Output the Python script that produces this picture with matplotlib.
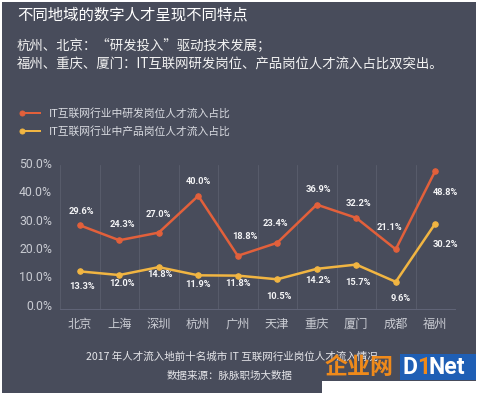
import numpy as np
import matplotlib.pyplot as plt
from matplotlib.patches import Rectangle

plt.rcParams['font.family'] = ['Noto Sans CJK SC', 'DejaVu Sans']

W, H = 481, 396

cities = ['北京', '上海', '深圳', '杭州', '广州', '天津', '重庆', '厦门', '成都', '福州']
rd_share = [29.6, 24.3, 27.0, 40.0, 18.8, 23.4, 36.9, 32.2, 21.1, 48.8]
pm_share = [13.3, 12.0, 14.8, 11.9, 11.8, 10.5, 14.2, 15.7, 9.6, 30.2]
yticks = [0, 10, 20, 30, 40, 50]

# label offsets (px) relative to each point
rd_off = [(2, 14), (3, 16), (0, 18), (0, 14), (7, 19), (-2, 19), (2, 15), (2, 14), (-6, 22), (10, -22)]
pm_off = [(2, -15), (3, -8), (1, -7), (0, -9), (0, -8), (2, -17), (1, -12), (2, -18), (5, -17), (10, -21)]

BG = '#484c5b'
RED = '#e2603b'
YEL = '#f1b542'
GRID = '#5b5f6e'
TXT = '#c9cbd2'


def fx(x):
    return x / W


def fy(y):
    return 1 - y / H


fig = plt.figure(figsize=(W / 72, H / 72), dpi=72, facecolor='white')
fig.patches.append(Rectangle((fx(2), fy(393)), (476 - 2) / W, (393 - 2) / H,
                             transform=fig.transFigure, facecolor=BG, edgecolor='none', zorder=-5))

ax = fig.add_axes([fx(60), fy(309), (455 - 60) / W, (309 - 165) / H])
ax.set_facecolor('none')
x = np.arange(len(cities))
ax.set_xlim(-0.5, 9.5)
ax.set_ylim(0, 50.9)

for i in range(len(cities)):
    ax.axvline(i - 0.5, color=GRID, lw=0.8, zorder=1)
for s in ['top', 'right', 'left']:
    ax.spines[s].set_visible(False)
ax.spines['bottom'].set_color('#62667a')
ax.spines['bottom'].set_linewidth(0.9)

ax.plot(x, rd_share, color=RED, lw=2.5, marker='o', ms=5.5, zorder=3, solid_capstyle='round')
ax.plot(x, pm_share, color=YEL, lw=2.5, marker='o', ms=5.5, zorder=3, solid_capstyle='round')

for i in x:
    ax.annotate(f'{rd_share[i]:.1f}%', (i, rd_share[i]), xytext=rd_off[i], textcoords='offset points',
                ha='center', va='center', color='#f4f4f6', fontsize=9.3,
                family='Roboto', fontweight='bold', zorder=4)
    ax.annotate(f'{pm_share[i]:.1f}%', (i, pm_share[i]), xytext=pm_off[i], textcoords='offset points',
                ha='center', va='center', color='#f4f4f6', fontsize=9.3,
                family='Roboto', fontweight='bold', zorder=4)

ax.set_xticks(x)
ax.set_xticklabels(cities, fontsize=12.2, color=TXT, fontweight='medium')
ax.set_yticks([])
ax.tick_params(axis='x', length=0, pad=9)
for v in yticks:
    ax.annotate(f'{v:.1f}%', (0, v), xycoords=('axes fraction', 'data'), xytext=(-8, 3),
                textcoords='offset points', ha='right', va='center', fontsize=12.2,
                color=TXT, family='Roboto')

# titles
fig.text(fx(17), fy(15), '不同地域的数字人才呈现不同特点', fontsize=15.4, color='white', va='center')
fig.text(fx(17), fy(45), '杭州、北京：“研发投入”驱动技术发展；', fontsize=13.4, color='#f2f2f2',
         va='center', fontweight='medium')
fig.text(fx(17), fy(65), '福州、重庆、厦门：IT互联网研发岗位、产品岗位人才流入占比双突出。',
         fontsize=13.4, color='#f2f2f2', va='center', fontweight='medium')

# legend
for yy, col, lab in [(113, RED, 'IT互联网行业中研发岗位人才流入占比'),
                     (131, YEL, 'IT互联网行业中产品岗位人才流入占比')]:
    fig.lines.append(plt.Line2D([fx(22), fx(40)], [fy(yy), fy(yy)], transform=fig.transFigure,
                                color=col, lw=2))
    fig.lines.append(plt.Line2D([fx(22)], [fy(yy)], transform=fig.transFigure,
                                color=col, marker='o', ms=5, lw=0))
    fig.text(fx(49), fy(yy), lab, fontsize=10.8, color='#d8dae0', va='center')

# caption
fig.text(fx(232), fy(357), '2017 年人才流入地前十名城市 IT 互联网行业岗位人才流入情况',
         fontsize=10.5, color='#e6e6ea', ha='center', va='center')
fig.text(fx(230), fy(376), '数据来源：脉脉职场大数据', fontsize=10.5, color='#e6e6ea',
         ha='center', va='center')

# watermark
fig.patches.append(Rectangle((fx(322), fy(396)), (W - 322) / W, 15 / H, transform=fig.transFigure,
                             facecolor='white', edgecolor='none', zorder=5))
fig.patches.append(Rectangle((fx(400), fy(380)), 76 / W, 26 / H, transform=fig.transFigure,
                             facecolor='#1f5fb5', edgecolor='none', zorder=5))
fig.text(fx(359), fy(367), '企业网', fontsize=23, color='#f08a1a', fontweight='bold',
         ha='center', va='center', zorder=6)
fig.text(fx(402), fy(367), 'D', fontsize=23, color='white', fontweight='bold',
         va='center', family='Roboto', zorder=6)
fig.text(fx(417), fy(367), '1', fontsize=23, color='#f08a1a', fontweight='bold',
         va='center', family='Roboto', zorder=6)
fig.text(fx(429), fy(367), 'Net', fontsize=23, color='white', fontweight='bold',
         va='center', family='Roboto', zorder=6)

fig.savefig('out.png', dpi=72, facecolor='white')
